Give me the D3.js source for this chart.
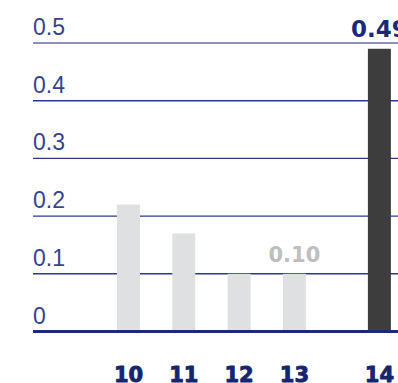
<!DOCTYPE html>
<html>
<head>
<meta charset="utf-8">
<script src="https://cdn.jsdelivr.net/npm/d3@7"></script>
<style>
  html, body { margin: 0; padding: 0; background: #fff; }
  svg { display: block; }
</style>
</head>
<body>
<svg id="chart" width="398" height="383"></svg>
<script>
// Values per category
const categories = ["10", "11", "12", "13", "14"];
const values = [0.22, 0.17, 0.10, 0.10, 0.49];
const yTicks = [0, 0.1, 0.2, 0.3, 0.4, 0.5];
const yTickLabels = ["0", "0.1", "0.2", "0.3", "0.4", "0.5"];
// Which bars carry a value label
const labelled = ["13", "14"];
const highlight = "14";

const W = 398, H = 383;
const svg = d3.select("#chart");

const gridLeft = 33;
const y = d3.scaleLinear().domain([0, 0.5]).range([331.5, 43]);

// Bars sit on an index scale; the last category is set apart by an extra gap
const step = 55.3, barW = 23, extraGap = 29.7;
const xi = d3.scaleLinear().domain([0, 1]).range([128.5, 128.5 + step]);
const cx = (d, i) => xi(i) + (d === highlight ? extraGap : 0);

const navy = "#1d2a7c";

// Horizontal gridlines
svg.append("g").selectAll("line")
  .data(yTicks.filter(t => t > 0))
  .join("line")
  .attr("x1", gridLeft).attr("x2", W)
  .attr("y1", d => y(d)).attr("y2", d => y(d))
  .attr("stroke", d => d === 0.5 ? "#8a93bd" : "#2a3a90")
  .attr("stroke-width", d => d === 0.5 ? 2.2 : 1.4);

// Tick labels above each gridline
svg.append("g").selectAll("text")
  .data(yTicks)
  .join("text")
  .attr("x", gridLeft)
  .attr("y", d => y(d) - 8)
  .attr("font-family", "'Liberation Sans', Arial, sans-serif")
  .attr("font-size", 23)
  .attr("fill", "#34448f")
  .text((d, i) => yTickLabels[i]);

// Bars
svg.append("g").selectAll("rect")
  .data(categories)
  .join("rect")
  .attr("x", (d, i) => cx(d, i) - barW / 2)
  .attr("width", barW)
  .attr("y", (d, i) => y(values[i]))
  .attr("height", (d, i) => y(0) - y(values[i]))
  .attr("fill", d => d === highlight ? "#3d3d3d" : "#dfe0e2");

// Baseline
svg.append("line")
  .attr("x1", gridLeft).attr("x2", W)
  .attr("y1", y(0)).attr("y2", y(0))
  .attr("stroke", navy).attr("stroke-width", 3);

// Value labels
svg.append("g").selectAll("text")
  .data(categories.map((c, i) => ({ c, i, v: values[i] })).filter(d => labelled.includes(d.c)))
  .join("text")
  .attr("x", d => cx(d.c, d.i))
  .attr("y", d => y(d.v) - 12)
  .attr("text-anchor", "middle")
  .attr("font-family", "'DejaVu Sans', sans-serif")
  .attr("font-weight", "bold")
  .attr("font-size", d => d.c === highlight ? 23 : 21)
  .attr("fill", d => d.c === highlight ? "#1b2a78" : "#bdbec0")
  .text(d => d.v.toFixed(2));

// Category labels
svg.append("g").selectAll("text")
  .data(categories)
  .join("text")
  .attr("x", (d, i) => cx(d, i))
  .attr("y", 382)
  .attr("text-anchor", "middle")
  .attr("font-family", "'DejaVu Sans', sans-serif")
  .attr("font-weight", "bold")
  .attr("font-size", 21)
  .attr("fill", "#15256f")
  .attr("stroke", "#15256f")
  .attr("stroke-width", 0.9)
  .attr("stroke-linejoin", "round")
  .text(d => d);
</script>
</body>
</html>
